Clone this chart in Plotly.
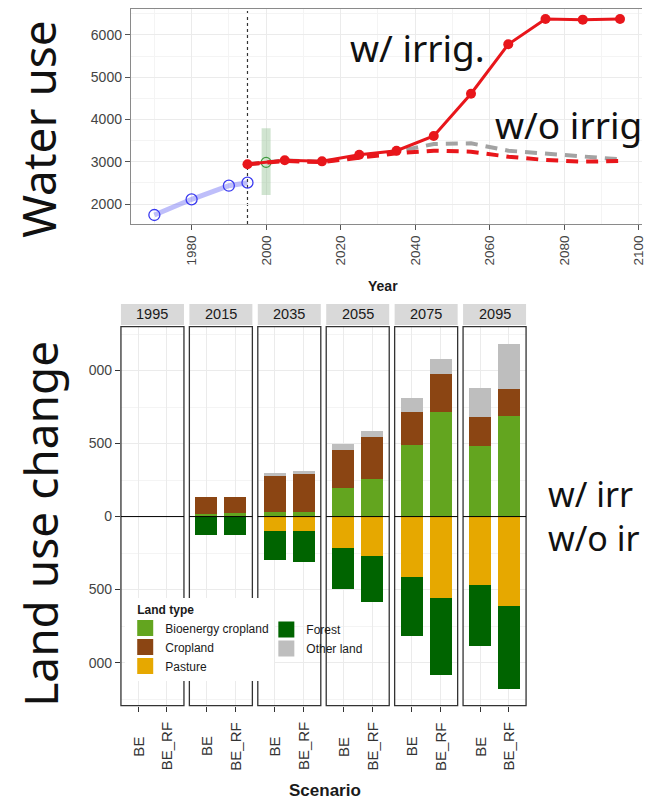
import plotly.graph_objects as go

W, H = 646, 799

# ---- Water use series ----
hist_years = [1970, 1980, 1990, 1995]
hist_values = [1740, 2111, 2433, 2505]

obs_year = [2000]
obs_value = [2986]
obs_low = [2213]
obs_high = [3791]

proj_years = [1995, 2005, 2015, 2025, 2035, 2045, 2055, 2065, 2075, 2085, 2095]
irrig_values = [2940, 3034, 3010, 3166, 3262, 3609, 4609, 5780, 6379, 6363, 6379]
noirrig_gray = [2940, 3030, 3000, 3120, 3240, 3420, 3436, 3262, 3200, 3136, 3057]
noirrig_red = [2940, 3020, 2990, 3090, 3200, 3262, 3238, 3120, 3041, 3002, 3018]

year_ticks = [1980, 2000, 2020, 2040, 2060, 2080, 2100]

# ---- Land use change by period and scenario ----
periods = ["1995", "2015", "2035", "2055", "2075", "2095"]
scenarios = ["BE", "BE_RF"]
land_types = ["Bioenergy cropland", "Cropland", "Pasture", "Forest", "Other land"]
land_colors = ["#63a51f", "#8b4513", "#e6a800", "#006400", "#bebebe"]

bioenergy_be = [0, 22, 32, 199, 491, 486]
bioenergy_rf = [0, 24, 32, 256, 717, 688]
cropland_be = [0, 115, 247, 260, 224, 199]
cropland_rf = [0, 113, 263, 288, 263, 185]
pasture_be = [0, 0, -100, -212, -411, -468]
pasture_rf = [0, 0, -96, -271, -555, -607]
forest_be = [0, -121, -197, -285, -402, -413]
forest_rf = [0, -125, -214, -313, -525, -573]
other_be = [0, 0, 22, 41, 98, 199]
other_rf = [0, 0, 18, 43, 102, 310]

land_be = [bioenergy_be, cropland_be, pasture_be, forest_be, other_be]
land_rf = [bioenergy_rf, cropland_rf, pasture_rf, forest_rf, other_rf]

change_ticks = [-1000, -500, 0, 500, 1000]
change_ticktext = ["000", "500", "0", "500", "000"]


def px_x(v):
    return v / W


def px_y(v):
    return 1 - v / H


SANS = "Liberation Sans, Arial, sans-serif"
TICK_FONT = dict(family=SANS, size=14, color="#444444")
BIG_FONT = dict(family="Noto Sans, sans-serif", size=37, color="#111111")

fig = go.Figure()

# ---- top panel: water use ----
fig.add_trace(go.Scatter(
    x=hist_years, y=hist_values, mode="lines",
    line=dict(color="rgba(110,110,245,0.45)", width=5),
    xaxis="x", yaxis="y", showlegend=False, hoverinfo="skip"))
fig.add_trace(go.Scatter(
    x=hist_years, y=hist_values, mode="markers",
    marker=dict(symbol="circle-open", size=11, color="#3b3bf0", line=dict(width=1.3)),
    xaxis="x", yaxis="y", showlegend=False, hoverinfo="skip"))
fig.add_trace(go.Scatter(
    x=obs_year, y=obs_value, mode="markers",
    marker=dict(symbol="circle-open", size=10, color="#3f9a3f", line=dict(width=1.2)),
    error_y=dict(type="data", symmetric=False,
                 array=[h - v for h, v in zip(obs_high, obs_value)],
                 arrayminus=[v - lo for v, lo in zip(obs_value, obs_low)],
                 thickness=9, width=0, color="rgba(150,195,150,0.45)"),
    xaxis="x", yaxis="y", showlegend=False, hoverinfo="skip"))
fig.add_trace(go.Scatter(
    x=proj_years, y=noirrig_gray, mode="lines",
    line=dict(color="#a3a3a3", width=4, dash="12px,8px"),
    xaxis="x", yaxis="y", showlegend=False, hoverinfo="skip"))
fig.add_trace(go.Scatter(
    x=proj_years, y=noirrig_red, mode="lines",
    line=dict(color="#e8161b", width=4, dash="12px,8px"),
    xaxis="x", yaxis="y", showlegend=False, hoverinfo="skip"))
fig.add_trace(go.Scatter(
    x=proj_years, y=irrig_values, mode="lines+markers",
    line=dict(color="#e8161b", width=3),
    marker=dict(size=10, color="#e8161b"),
    xaxis="x", yaxis="y", showlegend=False, hoverinfo="skip"))

# ---- bottom panels: stacked land-use change ----
n_panels = len(periods)
panel_left, panel_step, panel_w = 121.7, 68.85, 63.4
for k in range(n_panels):
    xa = "x%d" % (k + 2)
    for t, name in enumerate(land_types):
        fig.add_trace(go.Bar(
            x=[1, 2], y=[land_be[t][k], land_rf[t][k]],
            xaxis=xa, yaxis="y2", width=0.78,
            marker=dict(color=land_colors[t], line=dict(width=0)),
            name=name, showlegend=False, hoverinfo="skip"))

# legend entries (two columns)
legend_of = ["legend", "legend", "legend", "legend2", "legend2"]
for t, name in enumerate(land_types):
    fig.add_trace(go.Scatter(
        x=[None], y=[None], mode="markers", xaxis="x2", yaxis="y2",
        marker=dict(symbol="square", size=16, color=land_colors[t]),
        name=name, legend=legend_of[t], showlegend=True, hoverinfo="skip"))

legend_font = dict(family=SANS, size=12, color="#1a1a1a")
layout = dict(
    width=W, height=H, autosize=False,
    margin=dict(l=0, r=0, t=0, b=0, pad=0),
    paper_bgcolor="white", plot_bgcolor="white",
    barmode="relative", bargap=0,
    xaxis=dict(
        domain=[px_x(131.7), 1.0], range=[1963.7, 2100.9],
        tickvals=year_ticks, tickangle=-90, ticks="outside", ticklen=5,
        tickcolor="#555555", tickfont=dict(TICK_FONT, size=13.5),
        ticklabeloverflow="allow",
        showline=True, linecolor="#8a8a8a", linewidth=1.2, mirror=True,
        showgrid=True, gridcolor="#ebebeb", gridwidth=1,
        minor=dict(dtick=10, tick0=1980, showgrid=True, gridcolor="#f4f4f4"),
        zeroline=False, anchor="y", fixedrange=True),
    yaxis=dict(
        domain=[px_y(224), px_y(9.3)], range=[1527, 6608],
        dtick=1000, tick0=0, ticks="outside", ticklen=5,
        tickcolor="#555555", tickfont=TICK_FONT,
        showline=True, linecolor="#8a8a8a", linewidth=1.2,
        showgrid=True, gridcolor="#ebebeb", gridwidth=1,
        minor=dict(dtick=500, tick0=0, showgrid=True, gridcolor="#f4f4f4"),
        zeroline=False, anchor="x", fixedrange=True),
    yaxis2=dict(
        domain=[px_y(705.7), px_y(326.7)], range=[-1295, 1300],
        tickvals=change_ticks, ticktext=change_ticktext,
        ticks="outside", ticklen=5, tickcolor="#333333", tickfont=TICK_FONT,
        showgrid=True, gridcolor="#ebebeb", gridwidth=1,
        minor=dict(tickvals=[-1250, -750, -250, 250, 750, 1250], showgrid=True,
                   gridcolor="#f4f4f4"),
        zeroline=False, showline=False, anchor="x2", fixedrange=True),
    legend=dict(
        orientation="v", x=px_x(126), y=px_y(598), xanchor="left", yanchor="top",
        bgcolor="white", borderwidth=0, font=legend_font,
        title=dict(text="&nbsp;&nbsp;&nbsp;<b>Land type</b>", side="top",
                   font=legend_font),
        itemwidth=30, tracegroupgap=0),
    legend2=dict(
        orientation="v", x=px_x(268), y=px_y(615), xanchor="left", yanchor="top",
        bgcolor="rgba(0,0,0,0)", borderwidth=0, font=legend_font,
        itemwidth=30, tracegroupgap=0),
)

shapes = []
annotations = []
for k in range(n_panels):
    name = "xaxis%d" % (k + 2)
    ref = "x%d" % (k + 2)
    left = panel_left + panel_step * k
    layout[name] = dict(
        domain=[px_x(left), px_x(left + panel_w)], range=[0.4, 2.6],
        tickvals=[1, 2], showticklabels=False, ticks="outside", ticklen=5,
        tickcolor="#333333", showgrid=True, gridcolor="#ebebeb",
        zeroline=False, showline=False, anchor="y2", fixedrange=True)
    # panel frame
    shapes.append(dict(type="rect", xref=ref + " domain", yref="y2 domain",
                       x0=0, x1=1, y0=0, y1=1,
                       line=dict(color="#333333", width=1.3), layer="above"))
    # zero reference line
    shapes.append(dict(type="line", xref=ref + " domain", yref="y2",
                       x0=0, x1=1, y0=0, y1=0,
                       line=dict(color="black", width=1), layer="above"))
    # facet strip
    shapes.append(dict(type="rect", xref=ref + " domain", yref="paper",
                       x0=0, x1=1, y0=px_y(325), y1=px_y(304),
                       fillcolor="#d9d9d9", line=dict(width=0), layer="above"))
    annotations.append(dict(text=periods[k], xref=ref + " domain", yref="paper",
                            x=0.5, y=px_y(314.5), xanchor="center", yanchor="middle",
                            showarrow=False,
                            font=dict(family=SANS, size=14.5, color="#1a1a1a")))
    for j, sc in enumerate(scenarios):
        annotations.append(dict(text=sc, xref=ref, yref="paper",
                                x=j + 1, y=px_y(746.5), xanchor="center",
                                yanchor="middle", textangle=-90, showarrow=False,
                                font=dict(family=SANS, size=15, color="#333333")))

# base year marker in the water-use panel
shapes.append(dict(type="line", xref="x", yref="y domain", x0=1995, x1=1995,
                   y0=0, y1=1, line=dict(color="#333333", width=1.2, dash="3px,3px"),
                   layer="below"))

annotations += [
    dict(text="<b>Year</b>", xref="paper", yref="paper", x=px_x(385), y=px_y(286),
         xanchor="center", yanchor="middle", showarrow=False,
         font=dict(family=SANS, size=14, color="#1a1a1a")),
    dict(text="<b>Scenario</b>", xref="paper", yref="paper", x=px_x(327.5), y=px_y(790),
         xanchor="center", yanchor="middle", showarrow=False,
         font=dict(family=SANS, size=17, color="#1a1a1a")),
    dict(text="Water use", xref="paper", yref="paper", x=px_x(38), y=px_y(129),
         xanchor="center", yanchor="middle", textangle=-90, showarrow=False,
         font=dict(BIG_FONT, size=46)),
    dict(text="Land use change", xref="paper", yref="paper", x=px_x(40), y=px_y(524),
         xanchor="center", yanchor="middle", textangle=-90, showarrow=False,
         font=dict(BIG_FONT, size=46)),
    dict(text="w/ irrig.", xref="paper", yref="paper", x=px_x(350), y=px_y(48),
         xanchor="left", yanchor="middle", showarrow=False, font=BIG_FONT),
    dict(text="w/o irrig", xref="paper", yref="paper", x=px_x(496), y=px_y(125),
         xanchor="left", yanchor="middle", showarrow=False, font=BIG_FONT),
    dict(text="w/ irr<br>w/o ir", xref="paper", yref="paper", x=px_x(549),
         y=px_y(516), xanchor="left", yanchor="middle", align="left",
         showarrow=False, font=dict(BIG_FONT, size=34)),
]

layout["shapes"] = shapes
layout["annotations"] = annotations
fig.update_layout(**layout)

fig.write_html("out.html", config={"displayModeBar": False})
